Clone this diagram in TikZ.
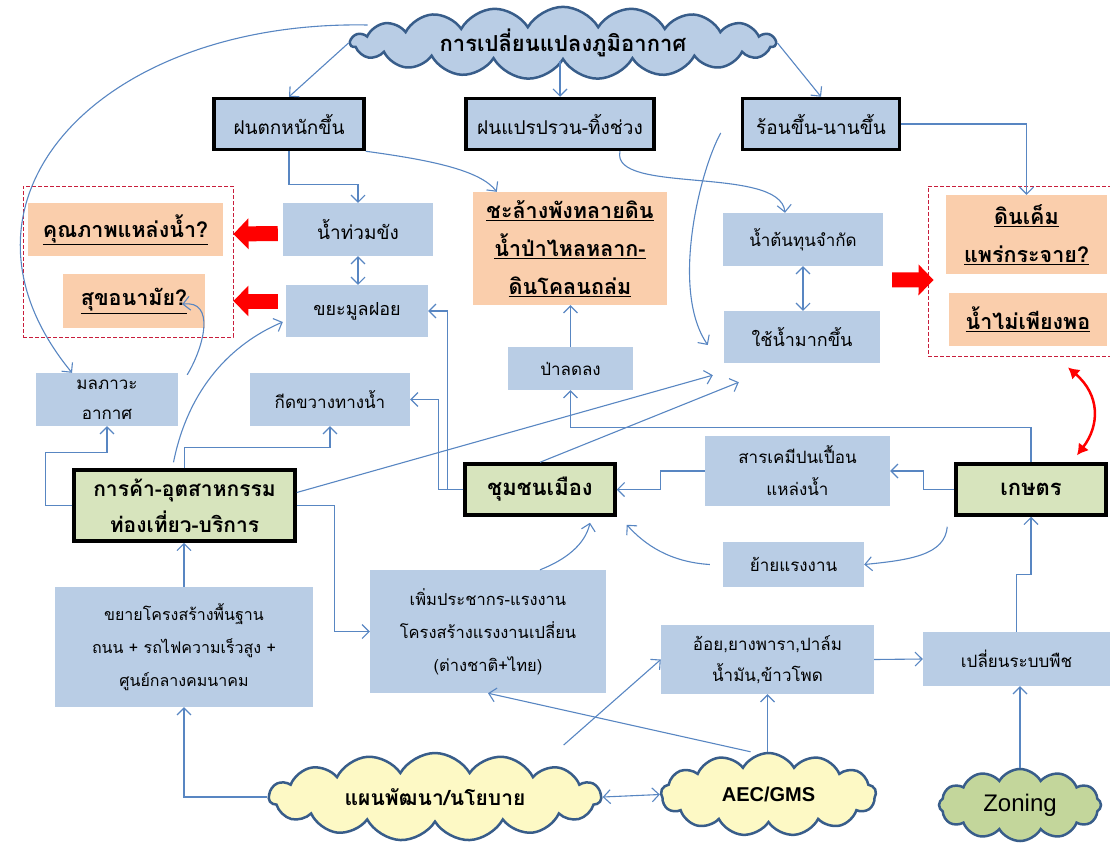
\documentclass[tikz,border=0pt]{standalone}
\usepackage{fontspec}
\setmainfont[Script=Thai]{Loma}
\newfontfamily\lat{Liberation Sans}
\usepackage{tikz}
\usetikzlibrary{shapes.symbols,arrows.meta,calc}

\definecolor{boxblue}{RGB}{185,205,229}
\definecolor{boxpeach}{RGB}{250,206,172}
\definecolor{boxgreen}{RGB}{215,228,189}
\definecolor{lineblue}{RGB}{88,134,194}
\definecolor{cloudedge}{RGB}{56,93,138}
\definecolor{cloudyellow}{RGB}{253,249,197}
\definecolor{cloudgreen}{RGB}{195,214,155}
\definecolor{dashred}{RGB}{200,30,60}

\begin{document}
\begin{tikzpicture}[x=1pt,y=-1pt,
	box/.style={fill=boxblue,inner sep=0pt,align=center,font=\fontsize{17}{32}\selectfont},
	heavy/.style={box,draw=black,line width=3.5pt,font=\fontsize{19}{30}\selectfont},
	sector/.style={heavy,fill=boxgreen,font=\bfseries\fontsize{21}{36}\selectfont},
	issue/.style={box,fill=boxpeach,font=\bfseries\fontsize{21.5}{38}\selectfont},
	cloudy/.style={cloud,cloud puffs=15,cloud puff arc=120,cloud ignores aspect,draw=cloudedge,line width=2.5pt,inner sep=0pt,align=center},
	dashbox/.style={draw=dashred,dash pattern=on 4pt off 2pt,line width=0.9pt,inner sep=0pt},
	ln/.style={draw=lineblue,line width=1.1pt,-{Straight Barb[length=7pt,width=14pt]}},
	lnboth/.style={ln,{Straight Barb[length=7pt,width=14pt]}-{Straight Barb[length=7pt,width=14pt]}},
	redarr/.style={draw=red,line width=15pt,-{Triangle[length=15pt,width=30pt]}},
	redboth/.style={draw=red,line width=2.5pt,{Latex[length=11pt,width=13pt]}-{Latex[length=11pt,width=13pt]}}]

	\useasboundingbox (0,0) rectangle (1110,844);

	% risk groups
	\node[dashbox,minimum width=210,minimum height=151] (dl) at (128,261.5) {};
	\node[dashbox,minimum width=184,minimum height=170] (dr) at (1020,271) {};

	\node[cloudy,cloud puffs=19,fill=boxblue,minimum width=425,minimum height=62,font=\bfseries\fontsize{22}{24}\selectfont] (a) at (563,43) {การเปลี่ยนแปลงภูมิอากาศ};
	\node[heavy,minimum width=150,minimum height=51] (b) at (289,124) {ฝนตกหนักขึ้น};
	\node[heavy,minimum width=188,minimum height=51] (c) at (560,124) {ฝนแปรปรวน-ทิ้งช่วง};
	\node[heavy,minimum width=157,minimum height=51] (d) at (821,124) {ร้อนขึ้น-นานขึ้น};

	\node[issue,minimum width=195,minimum height=53] (e) at (125.5,229.5) {\underline{คุณภาพแหล่งน้ำ?}};
	\node[issue,minimum width=142,minimum height=54] (f) at (134,301) {\underline{สุขอนามัย?}};
	\node[box,minimum width=150,minimum height=53,font=\fontsize{19}{30}\selectfont] (g) at (358,229.5) {น้ำท่วมขัง};
	\node[box,minimum width=142,minimum height=52,font=\fontsize{18}{30}\selectfont] (h) at (357,311) {ขยะมูลฝอย};
	\node[issue,minimum width=194,minimum height=113] (i) at (570,248.5) {\underline{ชะล้างพังทลายดิน}\\\underline{น้ำป่าไหลหลาก-}\\\underline{ดินโคลนถล่ม}};
	\node[box,minimum width=160,minimum height=53] (j) at (803,239.5) {น้ำต้นทุนจำกัด};
	\node[box,minimum width=156,minimum height=52,font=\fontsize{18}{30}\selectfont] (k) at (802,337) {ใช้น้ำมากขึ้น};
	\node[issue,minimum width=161,minimum height=79] (l) at (1026.5,234.5) {\underline{ดินเค็ม}\\\underline{แพร่กระจาย?}};
	\node[issue,minimum width=158,minimum height=53] (m) at (1028,319.5) {\underline{น้ำไม่เพียงพอ}};

	\node[box,minimum width=142,minimum height=53,font=\fontsize{17}{30}\selectfont] (n) at (107,399.5) {มลภาวะ\\อากาศ};
	\node[box,minimum width=160,minimum height=53] (o) at (330,399.5) {กีดขวางทางน้ำ};
	\node[box,minimum width=125,minimum height=43] (p) at (570.5,368.5) {ป่าลดลง};

	\node[sector,minimum width=221,minimum height=71] (q) at (184.5,505.5) {การค้า-อุตสาหกรรม\\ท่องเที่ยว-บริการ};
	\node[sector,minimum width=150,minimum height=51,font=\bfseries\fontsize{22}{30}\selectfont] (r) at (540,489.5) {ชุมชนเมือง};
	\node[sector,minimum width=150,minimum height=51,font=\bfseries\fontsize{22}{30}\selectfont] (s) at (1031,489.5) {เกษตร};
	\node[box,minimum width=185,minimum height=70] (t) at (797.5,471) {สารเคมีปนเปื้อน\\แหล่งน้ำ};
	\node[box,minimum width=141,minimum height=45] (u) at (793.5,564.5) {ย้ายแรงงาน};

	\node[box,minimum width=258,minimum height=120,font=\fontsize{16}{33}\selectfont] (v) at (184,647) {ขยายโครงสร้างพื้นฐาน\\ถนน + รถไฟความเร็วสูง +\\ศูนย์กลางคมนาคม};
	\node[box,minimum width=236,minimum height=123,font=\fontsize{16.5}{33}\selectfont] (w) at (488,631.5) {เพิ่มประชากร-แรงงาน\\โครงสร้างแรงงานเปลี่ยน\\(ต่างชาติ+ไทย)};
	\node[box,minimum width=213,minimum height=69,font=\fontsize{17}{31}\selectfont] (x) at (767.5,659.5) {อ้อย,ยางพารา,ปาล์ม\\น้ำมัน,ข้าวโพด};
	\node[box,minimum width=187,minimum height=54] (y) at (1016.5,659) {เปลี่ยนระบบพืช};

	\node[cloudy,fill=cloudyellow,minimum width=332,minimum height=88,font=\bfseries\fontsize{21}{24}\selectfont] (z) at (435,797) {แผนพัฒนา/นโยบาย};
	\node[cloudy,fill=cloudyellow,cloud puffs=13,minimum width=215,minimum height=83,font=\lat\bfseries\fontsize{20}{24}\selectfont] (aa) at (768.5,794.5) {AEC/GMS};
	\node[cloudy,fill=cloudgreen,cloud puffs=12,minimum width=162,minimum height=72,font=\lat\fontsize{24}{28}\selectfont] (ab) at (1020,805) {Zoning};

	% climate
	\draw[ln] (a.west) -- (b.north);
	\draw[ln] (c.north |- a.south) -- (c.north);
	\draw[ln] (a.east) -- (d.north);
	\draw[ln] ($(a.west)+(19,-18)$) .. controls (100,20) and (-70,200) .. ($(n.north)+(-35,0)$);
	\draw[ln] (b.south) -- ++(0,33) -| (g.north);
	\draw[ln] (b.south east) .. controls (430,160) and (480,170) .. ($(i.north west)+(24,0)$);
	\draw[ln] ($(c.south)+(60,0)$) .. controls (610,195) and (780,165) .. ($(j.north)+(-18,0)$);
	\draw[ln] (d.east) -| (l.north);
	\draw[ln] ($(d.west)+(-20,9)$) .. controls (700,170) and (670,290) .. ($(k.west)+(-16,8)$);
	\draw[lnboth] (j.south) -- (j.south |- k.north);
	\draw[lnboth] (g.south) -- (g.south |- h.north);
	\draw[ln] (p.north) -- (p.north |- i.south);

	% city
	\draw[ln] (r.west) -- ++(-16,0) |- (h.east);
	\draw[ln] (r.west) -- ++(-25,0) |- (o.east);
	\draw[ln] (r.north) -- ($(k.south west)+(15,19)$);
	\draw[ln] (w.north -| 540,0) .. controls (565,560) and (585,545) .. ($(r.south)+(50,6)$);

	% trade and services
	\draw[ln] ($(q.east)+(0,-13)$) -- ($(k.south west)+(-11,12)$);
	\draw[ln] (q.west) -- ++(-27,0) -- ++(0,-53) -| (n.south);
	\draw[ln] (q.north) -- ++(0,-21) -| (o.south);
	\draw[ln] ($(q.north)+(-11,-6)$) .. controls (190,380) and (240,340) .. ($(h.west)+(-3,11)$);
	\draw[ln] ($(n.north east)+(9,2)$) .. controls (205,345) and (215,300) .. ($(f.south east)+(-23,-24)$);
	\draw[ln] (q.east) -- ++(38,0) |- (w.west);
	\draw[ln] (v.north) -- (v.north |- q.south);
	\draw[ln] (z.west) -| (v.south);

	% policy and farming
	\draw[ln] ($(z.east)+(-39,-52)$) -- (x.west);
	\draw[ln] ($(aa.north)+(-18,0)$) -- (w.south);
	\draw[ln] (x.south |- aa.north) -- (x.south);
	\draw[lnboth] (z.east) -- (aa.west);
	\draw[ln] (ab.north) -- (ab.north |- y.south);
	\draw[ln] (x.east) -- (y.west);
	\draw[ln] (y.north) -- ++(0,-57) -| (s.south);
	\draw[ln] (s.west) -- ++(-31,0) |- (t.east);
	\draw[ln] (t.west) -- ++(-44,0) |- (r.east);
	\draw[ln] ($(s.south west)+(-7,10)$) .. controls (945,555) and (910,560) .. (u.east);
	\draw[ln] ($(u.west)+(-13,0)$) .. controls (670,562) and (645,545) .. ($(r.south east)+(10,8)$);
	\draw[ln] (s.north) -- ++(0,-35) -| (p.south);

	% impacts
	\draw[redarr] ($(g.west)+(-5,4)$) -- ($(dl.east)+(0,-27.5)$);
	\draw[redarr] ($(h.west)+(-8,-10)$) -- ($(dl.east)+(0,39.5)$);
	\draw[redarr] ($(k.north east)+(12,-31)$) -- ($(dr.west)+(6,9)$);
	\draw[redboth] ($(dr.south)+(48,11)$) .. controls (1100,395) and (1100,425) .. ($(s.north)+(46,-7)$);
\end{tikzpicture}
\end{document}
